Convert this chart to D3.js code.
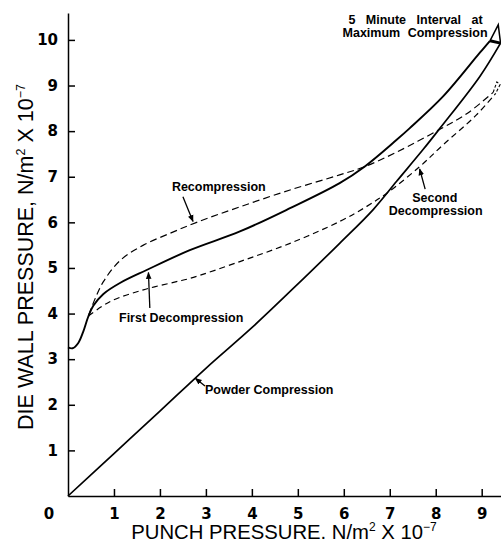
<!DOCTYPE html>
<html>
<head>
<meta charset="utf-8">
<script src="https://cdn.jsdelivr.net/npm/d3@7"></script>
<style>
  body { margin: 0; background: #fff; }
  .axis path, .axis line { stroke: #000; stroke-width: 1.5; }
  .axis text { font-family: "DejaVu Sans", sans-serif; font-weight: bold; font-size: 15px; fill: #000; }
  .note { font-family: "Liberation Sans", Arial, sans-serif; font-weight: bold; font-size: 12.5px; fill: #000; }
  .title { font-family: "Liberation Sans", Arial, sans-serif; font-size: 20.3px; fill: #000; }
</style>
</head>
<body>
<div id="chart"></div>
<script>
// values, both axes in N/m^2 x 10^-7
var xTicks = [1, 2, 3, 4, 5, 6, 7, 8, 9];
var yTicks = [1, 2, 3, 4, 5, 6, 7, 8, 9, 10];

var powderCompression = [[0,0],[1,0.93],[2,1.86],[3,2.8],[4,3.69],[4.9,4.55],[5.91,5.54],[6.64,6.28],
  [7.15,6.9],[7.72,7.59],[8.09,8.06],[8.96,9.2],[9.41,9.93]];

var firstDecompression = [[0,3.26],[0.1,3.24],[0.22,3.35],[0.33,3.6],[0.44,3.93],[0.55,4.17],[0.77,4.43],
  [1.13,4.67],[1.7,4.95],[2.65,5.39],[3.74,5.8],[4.83,6.31],[5.91,6.86],[6.45,7.22],[7.15,7.81],
  [7.43,8.06],[8.16,8.76],[8.96,9.72],[9.18,9.98]];

var recompression = [[0.45,3.97],[0.6,4.35],[0.77,4.7],[1.13,5.16],[1.64,5.5],[2.22,5.76],[2.8,6.0],
  [3.74,6.34],[4.83,6.71],[5.91,7.04],[6.45,7.22],[7.15,7.54],[8.09,8.04],[8.7,8.4],[9.25,8.85]];

var secondDecompression = [[0.45,3.95],[0.91,4.26],[1.64,4.52],[2.36,4.7],[2.65,4.77],[3.74,5.14],
  [4.83,5.54],[5.91,6.02],[6.5,6.35],[6.95,6.65],[7.65,7.22],[8.16,7.7],[8.88,8.35],[9.3,8.82]];

// 5 minute hold at maximum compression
var holdSolid = [[9.41,9.93],[9.36,10.33],[9.18,9.98]];
var holdBase = [[9.18,9.98],[9.41,9.93]];
var holdDashed = [[9.25,8.85],[9.33,9.08],[9.4,9.02],[9.3,8.82]];

// labels: text, x, y (data units), anchor; arrows from -> to
var notes = [
  {text: "5 Minute Interval at", x: 7.56, y: 10.35, anchor: "middle", ws: 7},
  {text: "Maximum Compression", x: 7.55, y: 10.06, anchor: "middle", ws: 4},
  {text: "Recompression", x: 2.26, y: 6.69, anchor: "start", ws: 0},
  {text: "First Decompression", x: 1.11, y: 3.81, anchor: "start", ws: 0},
  {text: "Powder Compression", x: 2.98, y: 2.24, anchor: "start", ws: 0},
  {text: "Second", x: 7.98, y: 6.45, anchor: "middle", ws: 0},
  {text: "Decompression", x: 8.0, y: 6.16, anchor: "middle", ws: 0}
];
var arrows = [
  [[2.5,6.56],[2.72,6.02]],
  [[1.78,4.12],[1.75,4.9]],
  [[2.98,2.41],[2.77,2.58]],
  [[7.77,6.73],[7.65,7.17]]
];

var svg = d3.select("#chart").append("svg")
  .attr("width", 501)
  .attr("height", 543);

var x = d3.scaleLinear().domain([0, 9.42]).range([68, 501]);
var y = d3.scaleLinear().domain([0, 10.59]).range([496, 13]);

svg.append("defs").append("marker")
  .attr("id", "head")
  .attr("viewBox", "0 0 10 10")
  .attr("refX", 9).attr("refY", 5)
  .attr("markerWidth", 7).attr("markerHeight", 7)
  .attr("markerUnits", "userSpaceOnUse")
  .attr("orient", "auto")
  .append("path")
    .attr("d", "M0,1 L10,5 L0,9 Z")
    .attr("fill", "#000");

svg.append("g")
  .attr("class", "axis")
  .attr("transform", "translate(0," + y(0) + ")")
  .call(d3.axisBottom(x).tickValues(xTicks).tickSizeInner(-7).tickSizeOuter(0).tickPadding(12));

svg.append("g")
  .attr("class", "axis")
  .attr("transform", "translate(" + x(0) + ",0)")
  .call(d3.axisLeft(y).tickValues(yTicks).tickSizeInner(-7).tickSizeOuter(0).tickPadding(10));

svg.append("text")
  .attr("x", x(0) - 19).attr("y", y(0) + 23)
  .attr("text-anchor", "middle")
  .style("font-family", "DejaVu Sans, sans-serif").style("font-weight", "bold").style("font-size", "15px")
  .text("0");

var line = d3.line()
  .x(function(d) { return x(d[0]); })
  .y(function(d) { return y(d[1]); })
  .curve(d3.curveCatmullRom.alpha(0.5));

var straight = d3.line()
  .x(function(d) { return x(d[0]); })
  .y(function(d) { return y(d[1]); });

svg.append("path").datum(powderCompression)
  .attr("d", line).attr("fill", "none").attr("stroke", "#000").attr("stroke-width", 1.7);

svg.append("path").datum(firstDecompression)
  .attr("d", line).attr("fill", "none").attr("stroke", "#000").attr("stroke-width", 1.9);

svg.append("path").datum(recompression)
  .attr("d", line).attr("fill", "none").attr("stroke", "#000").attr("stroke-width", 1.2)
  .attr("stroke-dasharray", "7,4");

svg.append("path").datum(secondDecompression)
  .attr("d", line).attr("fill", "none").attr("stroke", "#000").attr("stroke-width", 1.2)
  .attr("stroke-dasharray", "6,4");

svg.append("path").datum(holdSolid)
  .attr("d", straight).attr("fill", "none").attr("stroke", "#000").attr("stroke-width", 1.5);
svg.append("path").datum(holdBase)
  .attr("d", straight).attr("fill", "none").attr("stroke", "#000").attr("stroke-width", 3);
svg.append("path").datum(holdDashed)
  .attr("d", straight).attr("fill", "none").attr("stroke", "#000").attr("stroke-width", 1.1)
  .attr("stroke-dasharray", "3,2");

svg.selectAll(".arrow")
  .data(arrows)
  .enter().append("path")
    .attr("class", "arrow")
    .attr("d", straight)
    .attr("stroke", "#000").attr("stroke-width", 1.3)
    .attr("marker-end", "url(#head)");

svg.selectAll(".note")
  .data(notes)
  .enter().append("text")
    .attr("class", "note")
    .attr("x", function(d) { return x(d.x); })
    .attr("y", function(d) { return y(d.y); })
    .attr("text-anchor", function(d) { return d.anchor; })
    .style("word-spacing", function(d) { return d.ws + "px"; })
    .text(function(d) { return d.text; });

// axis titles
var xt = svg.append("text").attr("class", "title")
  .attr("x", 284).attr("y", 539).attr("text-anchor", "middle");
xt.append("tspan").text("PUNCH PRESSURE. N/m");
xt.append("tspan").attr("dy", -8).style("font-size", "12px").text("2");
xt.append("tspan").attr("dy", 8).text(" X 10");
xt.append("tspan").attr("dy", -8).style("font-size", "12px").text("\u22127");

var yt = svg.append("text").attr("class", "title")
  .attr("transform", "translate(33,257) rotate(-90)")
  .attr("text-anchor", "middle")
  .style("font-size", "21.5px");
yt.append("tspan").text("DIE WALL PRESSURE, N/m");
yt.append("tspan").attr("dy", -8).style("font-size", "12.5px").text("2");
yt.append("tspan").attr("dy", 8).text(" X 10");
yt.append("tspan").attr("dy", -8).style("font-size", "12.5px").text("\u22127");
</script>
</body>
</html>
